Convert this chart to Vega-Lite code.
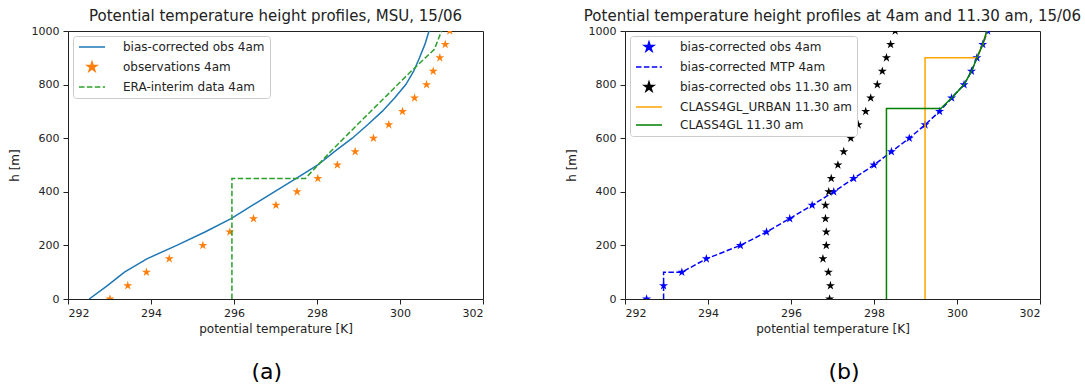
{
  "$schema": "https://vega.github.io/schema/vega-lite/v6.json",
  "padding": {"left": 7, "top": 8, "right": 0, "bottom": 3},
  "spacing": 80,
  "resolve": {"scale": {"color": "independent"}, "legend": {"color": "independent"}},
  "config": {
    "font": "DejaVu Sans",
    "view": {"stroke": "#222222", "strokeWidth": 1},
    "axis": {"grid": false, "domain": false, "tickColor": "#222222", "tickSize": 5, "labelFontSize": 11, "labelColor": "#222222", "titleFontSize": 12, "titleFontWeight": "normal", "titleColor": "#222222", "labelPadding": 3},
    "axisY": {"labelPadding": 4, "titlePadding": 10},
    "axisX": {"titlePadding": 5},
    "title": {"fontWeight": "normal", "color": "#222222"}
  },
  "datasets": {
    "a_blue": [
      {"T": 292.51, "h": 0, "series": "bias-corrected obs 4am"},
      {"T": 292.95, "h": 50, "series": "bias-corrected obs 4am"},
      {"T": 293.36, "h": 100, "series": "bias-corrected obs 4am"},
      {"T": 293.9, "h": 150, "series": "bias-corrected obs 4am"},
      {"T": 294.62, "h": 200, "series": "bias-corrected obs 4am"},
      {"T": 295.3, "h": 250, "series": "bias-corrected obs 4am"},
      {"T": 295.93, "h": 300, "series": "bias-corrected obs 4am"},
      {"T": 296.45, "h": 350, "series": "bias-corrected obs 4am"},
      {"T": 296.97, "h": 400, "series": "bias-corrected obs 4am"},
      {"T": 297.5, "h": 450, "series": "bias-corrected obs 4am"},
      {"T": 298.02, "h": 500, "series": "bias-corrected obs 4am"},
      {"T": 298.42, "h": 550, "series": "bias-corrected obs 4am"},
      {"T": 298.85, "h": 600, "series": "bias-corrected obs 4am"},
      {"T": 299.22, "h": 650, "series": "bias-corrected obs 4am"},
      {"T": 299.57, "h": 700, "series": "bias-corrected obs 4am"},
      {"T": 299.87, "h": 750, "series": "bias-corrected obs 4am"},
      {"T": 300.14, "h": 800, "series": "bias-corrected obs 4am"},
      {"T": 300.33, "h": 850, "series": "bias-corrected obs 4am"},
      {"T": 300.47, "h": 900, "series": "bias-corrected obs 4am"},
      {"T": 300.6, "h": 950, "series": "bias-corrected obs 4am"},
      {"T": 300.7, "h": 1000, "series": "bias-corrected obs 4am"}
    ],
    "a_obs": [
      {"T": 293.01, "h": 0, "series": "observations 4am"},
      {"T": 293.44, "h": 50, "series": "observations 4am"},
      {"T": 293.89, "h": 100, "series": "observations 4am"},
      {"T": 294.44, "h": 150, "series": "observations 4am"},
      {"T": 295.25, "h": 200, "series": "observations 4am"},
      {"T": 295.9, "h": 250, "series": "observations 4am"},
      {"T": 296.47, "h": 300, "series": "observations 4am"},
      {"T": 297.01, "h": 350, "series": "observations 4am"},
      {"T": 297.52, "h": 400, "series": "observations 4am"},
      {"T": 298.02, "h": 450, "series": "observations 4am"},
      {"T": 298.49, "h": 500, "series": "observations 4am"},
      {"T": 298.92, "h": 550, "series": "observations 4am"},
      {"T": 299.36, "h": 600, "series": "observations 4am"},
      {"T": 299.73, "h": 650, "series": "observations 4am"},
      {"T": 300.06, "h": 700, "series": "observations 4am"},
      {"T": 300.35, "h": 750, "series": "observations 4am"},
      {"T": 300.64, "h": 800, "series": "observations 4am"},
      {"T": 300.8, "h": 850, "series": "observations 4am"},
      {"T": 300.96, "h": 900, "series": "observations 4am"},
      {"T": 301.09, "h": 950, "series": "observations 4am"},
      {"T": 301.2, "h": 1000, "series": "observations 4am"}
    ],
    "a_era": [
      {"T": 295.95, "h": 0, "series": "ERA-interim data 4am"},
      {"T": 295.95, "h": 450, "series": "ERA-interim data 4am"},
      {"T": 297.72, "h": 450, "series": "ERA-interim data 4am"},
      {"T": 298.34, "h": 552, "series": "ERA-interim data 4am"},
      {"T": 299.06, "h": 664, "series": "ERA-interim data 4am"},
      {"T": 300.23, "h": 844, "series": "ERA-interim data 4am"},
      {"T": 300.83, "h": 932, "series": "ERA-interim data 4am"},
      {"T": 301.0, "h": 1000, "series": "ERA-interim data 4am"}
    ],
    "b_obs4": [
      {"T": 292.52, "h": 0, "series": "bias-corrected obs 4am"},
      {"T": 292.93, "h": 50, "series": "bias-corrected obs 4am"},
      {"T": 293.37, "h": 100, "series": "bias-corrected obs 4am"},
      {"T": 293.96, "h": 150, "series": "bias-corrected obs 4am"},
      {"T": 294.78, "h": 200, "series": "bias-corrected obs 4am"},
      {"T": 295.41, "h": 250, "series": "bias-corrected obs 4am"},
      {"T": 295.97, "h": 300, "series": "bias-corrected obs 4am"},
      {"T": 296.51, "h": 350, "series": "bias-corrected obs 4am"},
      {"T": 297.03, "h": 400, "series": "bias-corrected obs 4am"},
      {"T": 297.51, "h": 450, "series": "bias-corrected obs 4am"},
      {"T": 298.0, "h": 500, "series": "bias-corrected obs 4am"},
      {"T": 298.42, "h": 550, "series": "bias-corrected obs 4am"},
      {"T": 298.85, "h": 600, "series": "bias-corrected obs 4am"},
      {"T": 299.23, "h": 650, "series": "bias-corrected obs 4am"},
      {"T": 299.58, "h": 700, "series": "bias-corrected obs 4am"},
      {"T": 299.87, "h": 750, "series": "bias-corrected obs 4am"},
      {"T": 300.17, "h": 800, "series": "bias-corrected obs 4am"},
      {"T": 300.35, "h": 850, "series": "bias-corrected obs 4am"},
      {"T": 300.48, "h": 900, "series": "bias-corrected obs 4am"},
      {"T": 300.62, "h": 950, "series": "bias-corrected obs 4am"},
      {"T": 300.74, "h": 1000, "series": "bias-corrected obs 4am"}
    ],
    "b_mtp": [
      {"T": 292.93, "h": 0, "series": "bias-corrected MTP 4am"},
      {"T": 292.93, "h": 100, "series": "bias-corrected MTP 4am"},
      {"T": 293.37, "h": 100, "series": "bias-corrected MTP 4am"},
      {"T": 293.96, "h": 150, "series": "bias-corrected MTP 4am"},
      {"T": 294.78, "h": 200, "series": "bias-corrected MTP 4am"},
      {"T": 295.41, "h": 250, "series": "bias-corrected MTP 4am"},
      {"T": 295.97, "h": 300, "series": "bias-corrected MTP 4am"},
      {"T": 296.51, "h": 350, "series": "bias-corrected MTP 4am"},
      {"T": 297.03, "h": 400, "series": "bias-corrected MTP 4am"},
      {"T": 297.51, "h": 450, "series": "bias-corrected MTP 4am"},
      {"T": 298.0, "h": 500, "series": "bias-corrected MTP 4am"},
      {"T": 298.42, "h": 550, "series": "bias-corrected MTP 4am"},
      {"T": 298.85, "h": 600, "series": "bias-corrected MTP 4am"},
      {"T": 299.23, "h": 650, "series": "bias-corrected MTP 4am"},
      {"T": 299.58, "h": 700, "series": "bias-corrected MTP 4am"},
      {"T": 299.87, "h": 750, "series": "bias-corrected MTP 4am"},
      {"T": 300.17, "h": 800, "series": "bias-corrected MTP 4am"},
      {"T": 300.35, "h": 850, "series": "bias-corrected MTP 4am"},
      {"T": 300.48, "h": 900, "series": "bias-corrected MTP 4am"},
      {"T": 300.62, "h": 950, "series": "bias-corrected MTP 4am"},
      {"T": 300.74, "h": 1000, "series": "bias-corrected MTP 4am"}
    ],
    "b_obs11": [
      {"T": 296.93, "h": 0, "series": "bias-corrected obs 11.30 am"},
      {"T": 296.95, "h": 50, "series": "bias-corrected obs 11.30 am"},
      {"T": 296.9, "h": 100, "series": "bias-corrected obs 11.30 am"},
      {"T": 296.77, "h": 150, "series": "bias-corrected obs 11.30 am"},
      {"T": 296.85, "h": 200, "series": "bias-corrected obs 11.30 am"},
      {"T": 296.85, "h": 250, "series": "bias-corrected obs 11.30 am"},
      {"T": 296.83, "h": 300, "series": "bias-corrected obs 11.30 am"},
      {"T": 296.83, "h": 350, "series": "bias-corrected obs 11.30 am"},
      {"T": 296.91, "h": 400, "series": "bias-corrected obs 11.30 am"},
      {"T": 296.97, "h": 450, "series": "bias-corrected obs 11.30 am"},
      {"T": 297.13, "h": 500, "series": "bias-corrected obs 11.30 am"},
      {"T": 297.27, "h": 550, "series": "bias-corrected obs 11.30 am"},
      {"T": 297.44, "h": 600, "series": "bias-corrected obs 11.30 am"},
      {"T": 297.62, "h": 650, "series": "bias-corrected obs 11.30 am"},
      {"T": 297.8, "h": 700, "series": "bias-corrected obs 11.30 am"},
      {"T": 297.92, "h": 750, "series": "bias-corrected obs 11.30 am"},
      {"T": 298.08, "h": 800, "series": "bias-corrected obs 11.30 am"},
      {"T": 298.2, "h": 850, "series": "bias-corrected obs 11.30 am"},
      {"T": 298.3, "h": 900, "series": "bias-corrected obs 11.30 am"},
      {"T": 298.4, "h": 950, "series": "bias-corrected obs 11.30 am"},
      {"T": 298.51, "h": 1000, "series": "bias-corrected obs 11.30 am"}
    ],
    "b_urban": [
      {"T": 299.23, "h": 0, "series": "CLASS4GL_URBAN 11.30 am"},
      {"T": 299.23, "h": 900, "series": "CLASS4GL_URBAN 11.30 am"},
      {"T": 300.48, "h": 900, "series": "CLASS4GL_URBAN 11.30 am"},
      {"T": 300.62, "h": 950, "series": "CLASS4GL_URBAN 11.30 am"},
      {"T": 300.72, "h": 1000, "series": "CLASS4GL_URBAN 11.30 am"}
    ],
    "b_class": [
      {"T": 298.3, "h": 0, "series": "CLASS4GL 11.30 am"},
      {"T": 298.3, "h": 711, "series": "CLASS4GL 11.30 am"},
      {"T": 299.61, "h": 711, "series": "CLASS4GL 11.30 am"},
      {"T": 299.87, "h": 750, "series": "CLASS4GL 11.30 am"},
      {"T": 300.17, "h": 800, "series": "CLASS4GL 11.30 am"},
      {"T": 300.35, "h": 850, "series": "CLASS4GL 11.30 am"},
      {"T": 300.48, "h": 900, "series": "CLASS4GL 11.30 am"},
      {"T": 300.62, "h": 950, "series": "CLASS4GL 11.30 am"},
      {"T": 300.72, "h": 1000, "series": "CLASS4GL 11.30 am"}
    ]
  },
  "hconcat": [
    {
      "title": {"text": "(a)", "orient": "bottom", "anchor": "middle", "fontSize": 22, "offset": 27, "color": "#000000", "frame": "bounds", "dx": 21},
      "vconcat": [
        {
          "title": {"text": "Potential temperature height profiles, MSU, 15/06", "anchor": "middle", "fontSize": 15, "offset": 1, "frame": "group"},
          "width": 415,
          "height": 268,
          "encoding": {
            "x": {"field": "T", "type": "quantitative", "scale": {"domain": [292, 302], "nice": false, "zero": false}, "axis": {"values": [292, 294, 296, 298, 300, 302], "title": "potential temperature [K]"}},
            "y": {"field": "h", "type": "quantitative", "scale": {"domain": [0, 1000], "nice": false}, "axis": {"values": [0, 200, 400, 600, 800, 1000], "format": "d", "title": "h [m]"}},
            "color": {"field": "series", "type": "nominal",
              "scale": {"domain": ["bias-corrected obs 4am", "observations 4am", "ERA-interim data 4am"], "range": ["#1f77b4", "#ff7f0e", "#2ca02c"]},
              "legend": {"title": null, "orient": "top-left", "offset": 5, "fillColor": "white", "strokeColor": "#cccccc", "cornerRadius": 3, "padding": 5, "labelFontSize": 12, "labelLimit": 400, "labelColor": "#222222", "symbolSize": 100, "symbolOffset": 8, "labelOffset": 25, "rowPadding": 6,
                "encode": {"symbols": {"update": {
                  "shape": {"signal": "datum.value === 'observations 4am' ? 'M0,-1L0.2245,-0.309L0.9511,-0.309L0.3633,0.118L0.5878,0.809L0,0.382L-0.5878,0.809L-0.3633,0.118L-0.9511,-0.309L-0.2245,-0.309Z' : 'M-2.6,0H2.6'"},
                  "fill": {"signal": "datum.value === 'observations 4am' ? '#ff7f0e' : 'transparent'"},
                  "stroke": {"signal": "datum.value === 'bias-corrected obs 4am' ? '#1f77b4' : datum.value === 'ERA-interim data 4am' ? '#2ca02c' : 'transparent'"},
                  "strokeWidth": {"value": 1.5},
                  "strokeDash": {"signal": "datum.value === 'ERA-interim data 4am' ? [5.5, 2.4] : [1, 0]"},
                  "opacity": {"value": 1}
                }}}}
            }
          },
          "layer": [
            {"data": {"name": "a_blue"}, "mark": {"type": "line", "strokeWidth": 1.5, "clip": true}, "encoding": {"order": {"value": null}}},
            {"data": {"name": "a_obs"}, "mark": {"type": "point", "shape": "M0,-1L0.2245,-0.309L0.9511,-0.309L0.3633,0.118L0.5878,0.809L0,0.382L-0.5878,0.809L-0.3633,0.118L-0.9511,-0.309L-0.2245,-0.309Z", "filled": true, "size": 90, "opacity": 1, "clip": true}},
            {"data": {"name": "a_era"}, "mark": {"type": "line", "strokeWidth": 1.5, "strokeDash": [5.5, 2.4], "clip": true}, "encoding": {"order": {"value": null}}}
          ]
        }
      ]
    },
    {
      "title": {"text": "(b)", "orient": "bottom", "anchor": "middle", "fontSize": 22, "offset": 27, "color": "#000000", "frame": "bounds", "dx": 21},
      "vconcat": [
        {
          "title": {"text": "Potential temperature height profiles at 4am and 11.30 am, 15/06", "anchor": "middle", "fontSize": 15, "offset": 1, "frame": "group"},
          "width": 415,
          "height": 268,
          "encoding": {
            "x": {"field": "T", "type": "quantitative", "scale": {"domain": [292, 302], "nice": false, "zero": false}, "axis": {"values": [292, 294, 296, 298, 300, 302], "title": "potential temperature [K]"}},
            "y": {"field": "h", "type": "quantitative", "scale": {"domain": [0, 1000], "nice": false}, "axis": {"values": [0, 200, 400, 600, 800, 1000], "format": "d", "title": "h [m]"}},
            "color": {"field": "series", "type": "nominal",
              "scale": {"domain": ["bias-corrected obs 4am", "bias-corrected MTP 4am", "bias-corrected obs 11.30 am", "CLASS4GL_URBAN 11.30 am", "CLASS4GL 11.30 am"], "range": ["#0000ff", "#0000ff", "#000000", "#ffa500", "#008000"]},
              "legend": {"title": null, "orient": "top-left", "offset": 5, "fillColor": "white", "strokeColor": "#cccccc", "cornerRadius": 3, "padding": 5, "labelFontSize": 12, "labelLimit": 400, "labelColor": "#222222", "symbolSize": 100, "symbolOffset": 8, "labelOffset": 25, "rowPadding": 6,
                "encode": {"symbols": {"update": {
                  "shape": {"signal": "datum.value === 'bias-corrected obs 4am' || datum.value === 'bias-corrected obs 11.30 am' ? 'M0,-1L0.2245,-0.309L0.9511,-0.309L0.3633,0.118L0.5878,0.809L0,0.382L-0.5878,0.809L-0.3633,0.118L-0.9511,-0.309L-0.2245,-0.309Z' : 'M-2.6,0H2.6'"},
                  "fill": {"signal": "datum.value === 'bias-corrected obs 4am' ? '#0000ff' : datum.value === 'bias-corrected obs 11.30 am' ? '#000000' : 'transparent'"},
                  "stroke": {"signal": "datum.value === 'bias-corrected MTP 4am' ? '#0000ff' : datum.value === 'CLASS4GL_URBAN 11.30 am' ? '#ffa500' : datum.value === 'CLASS4GL 11.30 am' ? '#008000' : 'transparent'"},
                  "strokeWidth": {"value": 1.5},
                  "strokeDash": {"signal": "datum.value === 'bias-corrected MTP 4am' ? [5.5, 2.4] : [1, 0]"},
                  "opacity": {"value": 1}
                }}}}
            }
          },
          "layer": [
            {"data": {"name": "b_mtp"}, "mark": {"type": "line", "strokeWidth": 1.5, "strokeDash": [5.5, 2.4], "clip": true}, "encoding": {"order": {"value": null}}},
            {"data": {"name": "b_obs4"}, "mark": {"type": "point", "shape": "M0,-1L0.2245,-0.309L0.9511,-0.309L0.3633,0.118L0.5878,0.809L0,0.382L-0.5878,0.809L-0.3633,0.118L-0.9511,-0.309L-0.2245,-0.309Z", "filled": true, "size": 90, "opacity": 1, "clip": true}},
            {"data": {"name": "b_obs11"}, "mark": {"type": "point", "shape": "M0,-1L0.2245,-0.309L0.9511,-0.309L0.3633,0.118L0.5878,0.809L0,0.382L-0.5878,0.809L-0.3633,0.118L-0.9511,-0.309L-0.2245,-0.309Z", "filled": true, "size": 90, "opacity": 1, "clip": true}},
            {"data": {"name": "b_urban"}, "mark": {"type": "line", "strokeWidth": 1.5, "clip": true}, "encoding": {"order": {"value": null}}},
            {"data": {"name": "b_class"}, "mark": {"type": "line", "strokeWidth": 1.5, "clip": true}, "encoding": {"order": {"value": null}}}
          ]
        }
      ]
    }
  ]
}
